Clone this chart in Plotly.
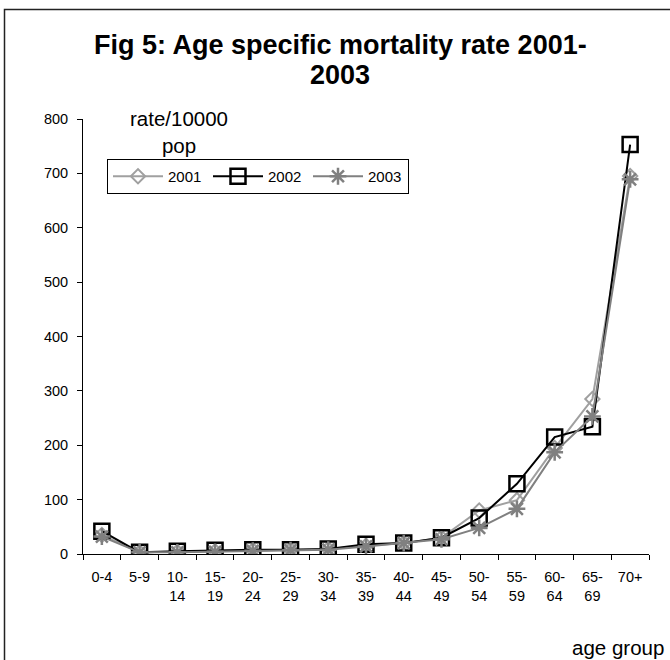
import plotly.graph_objects as go

# ---- data ----
age_groups = ["0-4", "5-9", "10-14", "15-19", "20-24", "25-29", "30-34", "35-39",
              "40-44", "45-49", "50-54", "55-59", "60-64", "65-69", "70+"]
tick_labels = ["0-4", "5-9", "10-<br>14", "15-<br>19", "20-<br>24", "25-<br>29", "30-<br>34",
               "35-<br>39", "40-<br>44", "45-<br>49", "50-<br>54", "55-<br>59", "60-<br>64",
               "65-<br>69", "70+"]
rate_2001 = [35, 3, 4, 5, 7, 8, 9, 15, 20, 30, 80, 99, 195, 285, 695]
rate_2002 = [42, 3, 5, 7, 8, 8, 9, 18, 20, 30, 66, 129, 215, 234, 753]
rate_2003 = [32, 3, 3, 4, 6, 7, 8, 14, 20, 27, 48, 83, 187, 253, 689]
y_ticks = [0, 100, 200, 300, 400, 500, 600, 700, 800]
title_lines = ["Fig 5: Age specific mortality rate 2001-", "2003"]

W, H = 670, 660
L, R, T, B = 83, 21, 119, 106
PW, PH = W - L - R, H - T - B

def px_x(p):
    return (p - L) / PW

def px_y(p):
    return (H - B - p) / PH

FONT = "Arial, Liberation Sans, sans-serif"

fig = go.Figure()
fig.add_trace(go.Scatter(
    x=age_groups, y=rate_2001, name="2001", mode="lines+markers",
    line=dict(color="#a0a0a0", width=2),
    marker=dict(symbol="diamond-open", size=11, color="#a0a0a0", line=dict(width=2, color="#a0a0a0")),
))
fig.add_trace(go.Scatter(
    x=age_groups, y=rate_2002, name="2002", mode="lines+markers",
    line=dict(color="#000000", width=2),
    marker=dict(symbol="square-open", size=15, color="#000000", line=dict(width=2.5, color="#000000")),
))
fig.add_trace(go.Scatter(
    x=age_groups, y=rate_2003, name="2003", mode="lines+markers",
    line=dict(color="#808080", width=2),
    marker=dict(symbol="asterisk-open", size=14, color="#808080", line=dict(width=2.5, color="#808080")),
))

annotations = [
    dict(text="<b>%s</b>" % title_lines[0], x=px_x(340), y=px_y(45), xref="paper", yref="paper",
         showarrow=False, xanchor="center", yanchor="middle",
         font=dict(size=27, family=FONT, color="black")),
    dict(text="<b>%s</b>" % title_lines[1], x=px_x(340), y=px_y(75), xref="paper", yref="paper",
         showarrow=False, xanchor="center", yanchor="middle",
         font=dict(size=27, family=FONT, color="black")),
    dict(text="rate/10000<br>pop", x=px_x(179), y=px_y(132), xref="paper", yref="paper",
         showarrow=False, xanchor="center", yanchor="middle",
         font=dict(size=20.5, family=FONT, color="black")),
    dict(text="age group", x=px_x(666), y=px_y(647), xref="paper", yref="paper",
         showarrow=False, xanchor="right", yanchor="middle",
         font=dict(size=20.5, family=FONT, color="black")),
]

fig.update_layout(
    width=W, height=H,
    margin=dict(l=L, r=R, t=T, b=B),
    paper_bgcolor="white", plot_bgcolor="white",
    font=dict(family=FONT, color="black"),
    showlegend=True,
    legend=dict(
        orientation="h",
        x=px_x(107), y=px_y(159), xanchor="left", yanchor="top",
        bordercolor="black", borderwidth=1,
        font=dict(size=15, family=FONT, color="black"),
        itemwidth=50, entrywidth=35, entrywidthmode="pixels",
        bgcolor="white",
    ),
    xaxis=dict(
        type="category", range=[-0.5, len(age_groups) - 0.5],
        tickmode="array", tickvals=age_groups, ticktext=tick_labels,
        tickson="boundaries", ticks="outside", ticklen=5, tickcolor="black",
        showline=True, linecolor="black", linewidth=1,
        showgrid=False, zeroline=False,
        tickfont=dict(size=14.5, family=FONT, color="black"),
        ticklabelstandoff=10,
        fixedrange=True,
    ),
    yaxis=dict(
        range=[0, 800], tickmode="array", tickvals=y_ticks,
        ticks="outside", ticklen=5, tickcolor="black",
        showline=True, linecolor="black", linewidth=1,
        showgrid=False, zeroline=False,
        tickfont=dict(size=14.5, family=FONT, color="black"),
        ticklabelstandoff=6,
        fixedrange=True,
    ),
    annotations=annotations,
    shapes=[
        dict(type="rect", xref="paper", yref="paper",
             x0=px_x(4.5), x1=px_x(700), y0=px_y(700), y1=px_y(9.5),
             line=dict(color="#222222", width=1.5), fillcolor="rgba(0,0,0,0)", layer="below"),
    ],
)

fig.write_html("out.html")
